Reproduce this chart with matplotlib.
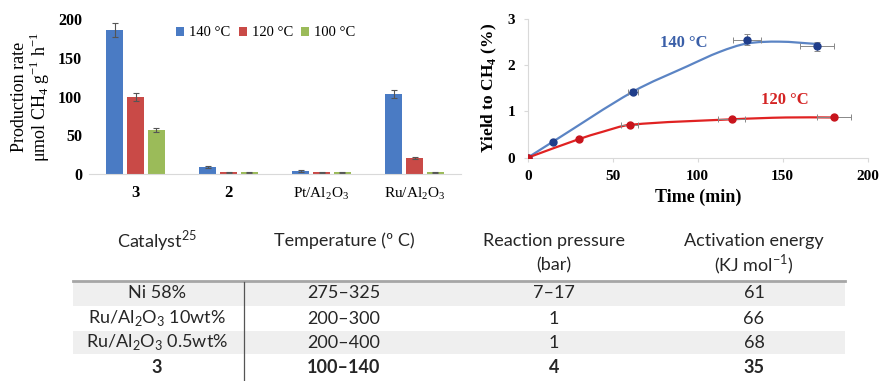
import numpy as np
import matplotlib as mpl
mpl.use('Agg')
import matplotlib.pyplot as plt
from matplotlib.path import Path
from matplotlib.patches import PathPatch, Rectangle

# ---- bar chart data ----
catalysts = ['3', '2', 'Pt/Al$_\\mathregular{2}$O$_\\mathregular{3}$', 'Ru/Al$_\\mathregular{2}$O$_\\mathregular{3}$']
cat_bold = [True, True, False, False]
temps = ['140 °C', '120 °C', '100 °C']
rate_140 = [186, 9, 4, 103]
rate_120 = [99, 2, 2, 21]
rate_100 = [57, 2, 2, 2]
err_140 = [9, 1, 0.8, 5]
err_120 = [5, 0.5, 0.5, 1.2]
err_100 = [3, 0.5, 0.5, 0.5]

# ---- yield vs time data (points) ----
t_140 = [0, 15, 62, 129, 170]
y_140 = [0, 0.35, 1.43, 2.55, 2.41]
xe_140 = [0, 0, 3, 8, 10]
ye_140 = [0, 0.02, 0.05, 0.12, 0.1]
t_120 = [0, 30, 60, 120, 180]
y_120 = [0, 0.40, 0.71, 0.83, 0.87]
xe_120 = [0, 0, 5, 8, 10]
ye_120 = [0, 0.01, 0.02, 0.02, 0.02]

# ---- trend lines ----
fit_t_140 = [0, 15, 62, 94, 113, 129, 148, 170]
fit_y_140 = [0, 0.35, 1.43, 1.98, 2.29, 2.47, 2.51, 2.46]
fit_t_120 = [0, 30, 44, 60, 120, 152, 180]
fit_y_120 = [0, 0.40, 0.56, 0.71, 0.83, 0.87, 0.87]

# ---- table data ----
tab_head_1 = ['Catalyst$^{\\mathregular{25}}$', 'Temperature (º C)', 'Reaction pressure', 'Activation energy']
tab_head_2 = ['', '', '(bar)', '(KJ mol$^{\\mathregular{-1}}$)']
tab_catalyst = ['Ni 58%', 'Ru/Al$_\\mathregular{2}$O$_\\mathregular{3}$ 10wt%',
                'Ru/Al$_\\mathregular{2}$O$_\\mathregular{3}$ 0.5wt%', '3']
tab_temp = ['275–325', '200–300', '200–400', '100–140']
tab_pressure = ['7–17', '1', '1', '4']
tab_energy = ['61', '66', '68', '35']

W, H = 882, 381
fig = plt.figure(figsize=(W / 100, H / 100), dpi=100)

def fx(px):
    return px / W

def fy(py):
    return 1 - py / H

serif = 'Liberation Serif'
c_blue, c_red, c_green = '#4a7bc4', '#c94a47', '#9bbb59'

# ---------------- bar chart ----------------
ax1 = fig.add_axes([fx(89), fy(174), fx(461 - 89), (174 - 19) / H])
x = np.arange(len(catalysts))
bw, step = 0.175, 0.225
ekw = dict(ecolor='#555555', capsize=2.5, elinewidth=0.8, capthick=0.8)
for vals, errs, col, lab, off in zip([rate_140, rate_120, rate_100], [err_140, err_120, err_100],
                                     [c_blue, c_red, c_green], temps, [-step, 0, step]):
    ax1.bar(x + off, vals, bw, yerr=errs, color=col, label=lab, error_kw=ekw)
ax1.set_xlim(-0.5, len(catalysts) - 0.5)
ax1.set_ylim(0, 200)
ax1.set_yticks([0, 50, 100, 150, 200])
ax1.set_xticks(x)
ax1.set_xticklabels(catalysts, family=serif, fontsize=11)
for lbl, b in zip(ax1.get_xticklabels(), cat_bold):
    if b:
        lbl.set_fontweight('bold')
        lbl.set_fontsize(12)
for lbl in ax1.get_yticklabels():
    lbl.set_family(serif)
    lbl.set_fontsize(11.5)
    lbl.set_fontweight('bold')
ax1.tick_params(length=0, pad=5)
ax1.tick_params(axis='x', pad=8)
for s in ['top', 'right', 'left']:
    ax1.spines[s].set_visible(False)
ax1.spines['bottom'].set_color('#d9d9d9')
ax1.set_ylabel('Production rate\nμmol CH$_\\mathregular{4}$ g$^\\mathregular{-1}$ h$^\\mathregular{-1}$',
               family=serif, fontsize=13, labelpad=4, linespacing=1.0)
ax1.legend(loc='center', bbox_to_anchor=(0.475, 0.91), ncol=3, frameon=False,
           prop=dict(family=serif, size=10.5), handlelength=0.55, handleheight=0.55,
           handletextpad=0.35, columnspacing=0.55)

# ---------------- yield chart ----------------
ax2 = fig.add_axes([fx(527.7), fy(157.7), fx(867.7 - 527.7), (157.7 - 19) / H])

def smooth_path(xs, ys):
    xs = np.asarray(xs, float)
    ys = np.asarray(ys, float)
    n = len(xs)
    m = np.empty(n)
    m[0] = (ys[1] - ys[0]) / (xs[1] - xs[0])
    m[-1] = (ys[-1] - ys[-2]) / (xs[-1] - xs[-2])
    m[1:-1] = (ys[2:] - ys[:-2]) / (xs[2:] - xs[:-2])
    verts = [(xs[0], ys[0])]
    codes = [Path.MOVETO]
    for i in range(n - 1):
        d = (xs[i + 1] - xs[i]) / 3
        verts += [(xs[i] + d, ys[i] + m[i] * d), (xs[i + 1] - d, ys[i + 1] - m[i + 1] * d),
                  (xs[i + 1], ys[i + 1])]
        codes += [Path.CURVE4] * 3
    return Path(verts, codes)

for ft, fyv, ts, ys, xe, ye, lc, mc in [
        (fit_t_140, fit_y_140, t_140, y_140, xe_140, ye_140, '#5b84c4', '#1f3d8a'),
        (fit_t_120, fit_y_120, t_120, y_120, xe_120, ye_120, '#e02222', '#c8141c')]:
    ax2.add_patch(PathPatch(smooth_path(ft, fyv), fill=False, edgecolor=lc, lw=1.6, zorder=2))
    ax2.errorbar(ts, ys, xerr=xe, yerr=ye, fmt='o', ms=5, color=mc, ecolor='#888888',
                 elinewidth=0.7, capsize=2, capthick=0.7, zorder=3)

ax2.text(92, 2.48, '140 °C', color='#3a5fa8', family=serif, fontsize=12, fontweight='bold',
         ha='center', va='center')
ax2.text(151, 1.25, '120 °C', color='#d42424', family=serif, fontsize=12, fontweight='bold',
         ha='center', va='center')
ax2.set_xlim(0, 200)
ax2.set_ylim(0, 3)
ax2.set_xticks([0, 50, 100, 150, 200])
ax2.set_yticks([0, 1, 2, 3])
for s in ['top', 'right']:
    ax2.spines[s].set_visible(False)
for s in ['left', 'bottom']:
    ax2.spines[s].set_color('#d9d9d9')
ax2.tick_params(length=3, color='#d9d9d9', pad=6)
for lbl in ax2.get_xticklabels() + ax2.get_yticklabels():
    lbl.set_family(serif)
    lbl.set_fontsize(11)
    lbl.set_fontweight('bold')
ax2.set_xlabel('Time (min)', family=serif, fontsize=13, fontweight='bold', labelpad=4)
ax2.set_ylabel('Yield to CH$_\\mathregular{4}$ (%)', family=serif, fontsize=12.5,
               fontweight='bold', labelpad=6)

# ---------------- table ----------------
tfont = dict(family='Lato', fontsize=13, color='#262626')
left, right = 73, 845
row_top = [281, 306, 331, 354]
row_bot = [306, 331, 354, 381]
col_x = [157, 344, 554, 754]
for i in (0, 2):
    fig.add_artist(Rectangle((fx(left), fy(row_bot[i])), fx(right - left),
                             (row_bot[i] - row_top[i]) / H, transform=fig.transFigure,
                             facecolor='#efefef', edgecolor='none', zorder=0))
fig.add_artist(plt.Line2D([fx(left), fx(right)], [fy(281), fy(281)], transform=fig.transFigure,
                          color='#a6a6a6', lw=2))
fig.add_artist(plt.Line2D([fx(244), fx(244)], [fy(282), fy(381)], transform=fig.transFigure,
                          color='#555555', lw=0.9))

for cx, h1, h2 in zip(col_x, tab_head_1, tab_head_2):
    fig.text(fx(cx), fy(241), h1, ha='center', va='center', **tfont)
    if h2:
        fig.text(fx(cx), fy(265), h2, ha='center', va='center', **tfont)

for r, cols in enumerate(zip(tab_catalyst, tab_temp, tab_pressure, tab_energy)):
    yc = (row_top[r] + row_bot[r]) / 2
    for cx, s in zip(col_x, cols):
        fig.text(fx(cx), fy(yc), s, ha='center', va='center',
                 fontweight='bold' if r == 3 else 'normal', **tfont)

fig.savefig('out.png', dpi=100)
